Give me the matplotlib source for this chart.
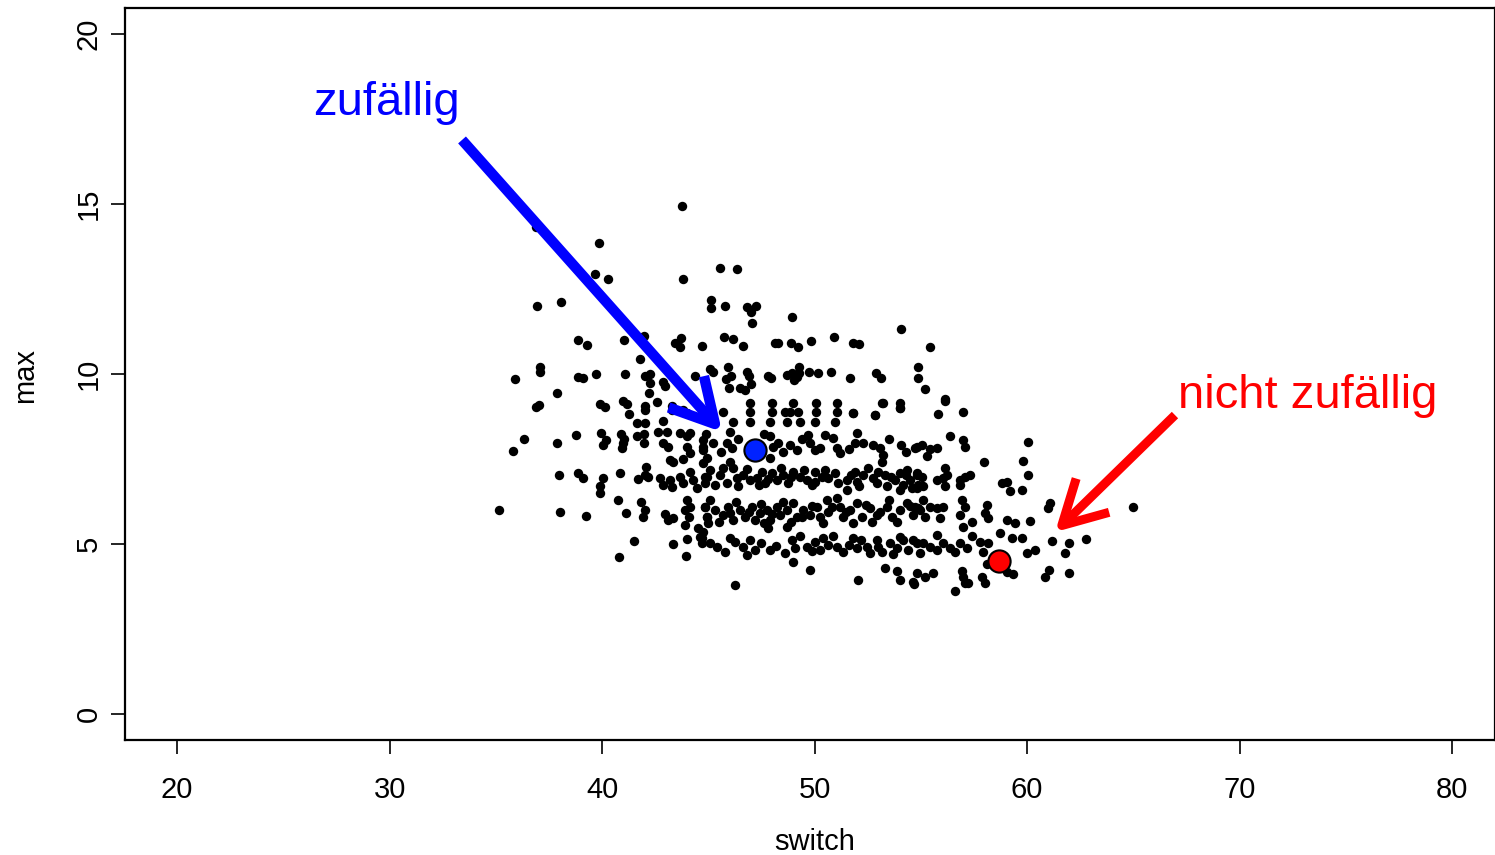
import matplotlib
matplotlib.use("Agg")
import matplotlib.pyplot as plt

plt.rcParams["font.family"] = ["Liberation Sans", "DejaVu Sans"]

# switch / max pairs, grouped by region
upper_sw = [43.75, 36.88, 39.84, 39.69, 40.28, 43.81, 36.94, 38.07, 38.85, 39.31,
            41.02, 41.98, 41.79, 43.42, 43.67, 43.73, 44.71, 37.08, 37.08, 35.92,
            37.87, 38.89, 39.09, 39.70, 41.09, 42.04, 42.26, 42.26, 42.23, 42.89,
            42.94, 44.38,
            45.57, 46.33, 45.13, 45.13, 45.79, 46.81, 47.01, 47.26, 47.04, 48.92,
            54.09, 45.74, 46.15, 46.64, 48.14, 48.26, 48.87, 49.24, 49.81, 50.93,
            51.83, 52.11, 45.08, 45.21, 45.91, 45.84, 46.06, 46.81, 46.93, 47.01,
            45.98, 46.49, 46.73, 47.82, 47.95, 48.71, 48.92, 49.29, 49.29, 49.05,
            49.16, 49.75, 50.14, 50.76, 51.69, 52.89, 53.13, 54.85, 54.88,
            55.44, 55.22, 56.16]
upper_mx = [14.94, 14.31, 13.86, 12.93, 12.79, 12.79, 11.99, 12.11, 11.01, 10.85,
            11.01, 11.11, 10.44, 10.90, 10.79, 11.06, 10.83, 10.21, 10.07, 9.84,
            9.45, 9.92, 9.87, 10.01, 10.01, 9.94, 9.99, 9.72, 9.43, 9.77,
            9.63, 9.95,
            13.11, 13.09, 12.18, 11.93, 12.0, 11.96, 11.81, 12.0, 11.51, 11.67,
            11.33, 11.08, 11.03, 10.82, 10.90, 10.92, 10.90, 10.78, 10.97, 11.10,
            10.90, 10.87, 10.15, 10.05, 10.19, 9.85, 9.94, 10.07, 9.94, 9.71,
            9.58, 9.58, 9.53, 9.94, 9.89, 9.97, 10.04, 10.21, 10.04, 9.82,
            9.92, 10.05, 10.02, 10.06, 9.87, 10.02, 9.87, 10.21, 9.87,
            10.80, 9.55, 9.26]

left_sw = [36.88, 37.04, 39.91, 40.14, 41.0, 41.16, 42.02, 42.02, 42.57, 43.27,
           43.27, 41.25, 41.64, 42.02, 42.89, 43.82, 43.98,
           36.33, 35.80, 37.87, 38.79, 39.95, 40.19, 40.06, 40.89, 41.05, 41.0,
           40.92, 41.64, 41.95, 41.95, 42.65, 43.04, 42.89, 43.12, 43.67, 43.98,
           44.14, 43.98, 44.14, 43.82, 44.77, 44.77, 44.92, 43.2, 43.36,
           37.95, 38.89, 39.12, 40.06, 39.91, 39.88, 40.85, 41.71, 42.02, 42.18,
           42.05, 42.73, 42.89, 43.27, 43.2, 43.67, 43.82, 44.14, 44.29, 44.45,
           44.77, 44.92, 44.85,
           35.13, 38.02, 39.23, 40.77, 41.13, 41.81, 42.02, 41.91, 42.96, 43.12,
           43.36, 43.91, 44.14, 43.91, 44.07, 43.98, 44.85, 44.92, 45.0, 44.53,
           41.51, 43.32, 43.98, 44.61, 44.69, 40.80, 43.95]
left_mx = [9.02, 9.09, 9.12, 9.02, 9.19, 9.12, 9.06, 8.94, 9.16, 9.06,
           8.94, 8.82, 8.57, 8.57, 8.63, 8.94, 8.84,
           8.09, 7.74, 7.98, 8.19, 8.27, 8.06, 7.91, 8.22, 8.08, 7.98,
           7.81, 8.16, 8.24, 7.96, 8.30, 8.28, 7.96, 7.86, 8.25, 8.16,
           8.25, 7.86, 7.67, 7.49, 8.06, 7.76, 7.52, 7.47, 7.42,
           7.03, 7.08, 6.93, 6.93, 6.71, 6.51, 7.08, 6.91, 7.03, 6.96,
           7.27, 6.93, 6.74, 6.67, 6.88, 6.98, 6.78, 7.13, 6.88, 6.64,
           7.37, 6.98, 6.78,
           6.0, 5.95, 5.82, 6.29, 5.90, 6.24, 6.0, 5.80, 5.88, 5.71,
           5.76, 6.0, 6.08, 5.56, 5.80, 6.29, 6.10, 5.80, 5.61, 5.48,
           5.10, 5.0, 5.16, 5.21, 5.04, 4.61, 4.65]

mid_sw = [46.96, 47.98, 49.0, 50.09, 51.04, 53.15, 54.02,
          45.71, 46.96, 47.98, 48.61, 48.85, 49.24, 50.09, 51.04, 51.82, 52.85, 54.02,
          46.18, 46.96, 47.91, 48.69, 49.32, 50.02, 50.96, 51.83, 52.85, 54.02, 53.24,
          44.77, 45.24, 45.87, 46.1, 46.02, 47.91, 48.06, 48.3, 47.91, 48.85,
          49.16, 49.71, 49.79, 50.02, 50.26, 50.88, 51.04, 51.2, 51.91, 52.3,
          52.77, 53.08, 53.24, 53.16, 54.09, 54.73,
          44.9, 45.6, 46.4, 47.6, 48.5, 49.4, 50.5, 51.6, 52.0, 53.5, 54.3]
mid_mx = [9.15, 9.15, 9.15, 9.15, 9.15, 9.15, 9.15,
          8.89, 8.89, 8.89, 8.89, 8.89, 8.89, 8.89, 8.89, 8.84, 8.79, 8.99,
          8.6, 8.6, 8.6, 8.6, 8.6, 8.6, 8.6, 8.84, 8.79, 8.99, 9.14,
          7.86, 7.96, 7.96, 7.81, 8.30, 8.16, 7.86, 7.96, 7.52, 7.91,
          7.76, 8.21, 7.96, 7.76, 7.81, 8.11, 7.81, 7.67, 7.96, 7.96,
          7.91, 7.81, 7.62, 7.42, 7.91, 7.81,
          8.22, 7.70, 8.08, 8.24, 7.70, 8.08, 8.20, 7.80, 8.25, 8.10, 7.70]

band7_sw = [44.85, 45.08, 45.55, 45.86, 46.18, 46.34, 46.65, 46.96, 47.28, 47.51,
            47.67, 47.98, 48.22, 48.53, 48.77, 49.0, 49.32, 49.63, 50.02, 50.02,
            50.34, 50.65, 50.96, 51.51, 51.9, 51.98, 52.3, 52.77, 52.92, 53.32,
            53.39, 53.79, 54.02, 54.18, 54.49, 54.8, 54.88, 46.02, 51.51, 54.02,
            54.34,
            45.3, 45.7, 46.4, 46.8, 47.4, 47.8, 48.4, 48.9, 49.5, 49.9,
            50.5, 51.1, 51.7, 52.1, 52.5, 53.0, 53.6, 54.3, 54.6]
band7_mx = [6.98, 7.18, 7.03, 6.79, 7.23, 6.93, 7.03, 6.88, 6.93, 7.13,
            6.79, 7.08, 6.88, 7.03, 6.79, 7.13, 6.98, 6.88, 7.13, 6.83,
            6.98, 6.93, 7.08, 6.88, 7.13, 6.83, 7.03, 6.93, 6.79, 7.03,
            6.69, 6.88, 7.08, 6.74, 6.88, 7.03, 6.74, 7.42, 6.59, 6.59,
            7.18,
            6.72, 7.22, 6.70, 7.20, 6.72, 6.92, 7.22, 6.96, 7.16, 6.72,
            7.18, 6.78, 7.02, 6.70, 7.22, 7.12, 6.96, 7.02, 6.64]

band6_sw = [44.85, 44.92, 45.32, 45.71, 45.94, 46.18, 46.49, 46.73, 47.04, 47.2,
            47.43, 47.75, 47.9, 48.22, 48.37, 48.69, 49.0, 49.16, 49.47, 49.79,
            50.1, 50.26, 50.57, 50.65, 51.04, 51.2, 51.36, 51.67, 51.98, 52.22,
            52.61, 52.92, 53.39, 53.63, 54.02, 54.34, 54.65, 54.88, 48.69, 47.83,
            44.77,
            45.1, 45.5, 46.0, 46.3, 46.9, 47.5, 47.6, 48.0, 48.5, 48.9,
            49.4, 49.9, 50.4, 50.8, 51.5, 51.8, 52.4, 52.7, 53.1, 53.5,
            53.9, 54.5]
band6_mx = [6.10, 5.80, 6.0, 5.85, 6.10, 5.71, 6.0, 5.80, 6.10, 5.71,
            5.90, 6.0, 5.71, 6.10, 5.85, 6.0, 6.20, 5.80, 6.0, 5.85,
            6.10, 5.80, 6.30, 5.95, 6.34, 6.10, 5.80, 6.0, 6.20, 5.80,
            6.05, 5.85, 6.10, 5.80, 6.0, 6.20, 5.85, 6.05, 5.51, 5.46,
            5.36,
            6.28, 5.64, 5.92, 6.22, 5.95, 6.18, 5.62, 5.88, 6.22, 5.66,
            5.78, 6.12, 5.62, 6.08, 5.94, 5.62, 6.16, 5.66, 5.95, 6.30,
            5.66, 6.12]

band5_sw = [45.79, 46.26, 46.65, 46.96, 47.2, 47.9, 48.92, 49.08, 49.32, 49.63,
            50.02, 50.26, 50.65, 50.88, 51.04, 51.36, 51.83, 51.98, 52.45, 52.61,
            52.92, 53.16, 53.55, 53.86, 54.18, 54.41, 54.8, 46.81, 45.08, 44.69,
            49.79, 52.06, 53.32, 53.86, 54.02, 54.65, 46.26, 49.0,
            45.4, 46.0, 47.5, 48.2, 48.6, 49.9, 50.4, 51.6, 52.2, 53.0, 53.7, 54.0]
band5_mx = [4.77, 5.07, 4.92, 5.12, 4.82, 4.82, 5.12, 4.87, 5.22, 4.92,
            5.07, 4.82, 4.97, 5.22, 4.92, 4.77, 5.17, 4.87, 4.92, 4.73,
            5.12, 4.77, 5.02, 4.87, 5.12, 4.82, 5.02, 4.67, 5.02, 5.17,
            4.24, 3.94, 4.28, 4.19, 3.94, 3.89, 3.79, 4.48,
            4.92, 5.18, 5.02, 4.95, 4.72, 4.78, 5.18, 4.97, 5.12, 4.90, 4.70, 5.20]

right_sw = [56.14, 55.82, 56.97, 56.37, 56.97, 57.08, 60.06, 54.8, 55.04, 55.43,
            55.74, 55.27, 57.97, 59.82, 60.06, 54.8, 55.04, 54.8, 55.12, 55.74,
            56.06, 56.14, 56.22, 56.84, 57.08, 57.31, 56.84, 56.14, 58.8, 59.04,
            59.2, 59.74, 54.73, 54.96, 55.12, 55.2, 55.43, 55.74, 56.06, 55.9,
            56.92, 57.08, 56.84, 58.1, 58.02, 58.18, 57.39, 57.0, 59.04, 59.43,
            60.14, 61.0, 61.08, 65.0, 58.73, 55.74, 57.39, 54.65, 55.12, 55.43,
            55.74, 56.06, 56.37, 56.61, 56.84, 57.16, 54.96, 57.78, 58.18, 57.94,
            59.27, 59.74, 60.37, 59.98, 61.16, 61.99, 62.77, 61.78, 58.1, 59.04,
            59.35, 54.8, 55.2, 55.59, 56.92, 57.0, 57.08, 57.23, 57.86, 58.02,
            56.61, 54.68, 61.05, 60.84, 61.99]
right_mx = [9.19, 8.82, 8.89, 8.18, 8.06, 7.86, 8.01, 7.86, 7.91, 7.78,
            7.81, 7.59, 7.42, 7.44, 7.03, 7.08, 6.98, 6.64, 6.69, 6.88,
            6.93, 7.23, 7.03, 6.88, 6.98, 7.03, 6.74, 6.69, 6.78, 6.83,
            6.56, 6.59, 6.10, 6.0, 6.29, 5.80, 6.10, 6.05, 6.10, 5.75,
            6.29, 6.10, 5.85, 6.15, 5.9, 5.75, 5.66, 5.51, 5.71, 5.63,
            5.68, 6.05, 6.19, 6.10, 5.33, 5.26, 5.22, 5.12, 5.02, 4.92,
            4.82, 5.02, 4.87, 4.77, 5.02, 4.87, 4.72, 5.07, 5.02, 4.77,
            5.18, 5.18, 4.82, 4.74, 5.10, 5.02, 5.14, 4.74, 4.41, 4.17,
            4.12, 4.16, 4.04, 4.16, 4.19, 4.04, 3.84, 3.84, 4.04, 3.86,
            3.63, 3.82, 4.23, 4.04, 4.14]

# highlighted sequences
random_pt = (47.2, 7.76)
nonrandom_pt = (58.69, 4.51)

x_ticks = [20, 30, 40, 50, 60, 70, 80]
y_ticks = [0, 5, 10, 15, 20]

fig = plt.figure(figsize=(14.95, 8.55), dpi=100)
ax = fig.add_axes([125 / 1495, 1 - 740 / 855, 1370 / 1495, 732 / 855])

sw = upper_sw + left_sw + mid_sw + band7_sw + band6_sw + band5_sw + right_sw
mx = upper_mx + left_mx + mid_mx + band7_mx + band6_mx + band5_mx + right_mx
ax.scatter(sw, mx, s=46, c="black", linewidths=0, zorder=2)

ax.plot(*random_pt, "o", ms=16, mfc="#0022ff", mec="black", mew=1.5, zorder=4)
ax.plot(*nonrandom_pt, "o", ms=16, mfc="#ff0000", mec="black", mew=1.5, zorder=4)

# arrows and labels
head = "->,head_length=0.62,head_width=0.34"
ax.annotate("", xy=(45.65, 8.29), xytext=(33.41, 16.88),
            arrowprops=dict(arrowstyle=head, color="#0000ff", lw=7.5,
                            mutation_scale=50, shrinkA=0, shrinkB=0,
                            capstyle="butt"), zorder=3)
ax.annotate("", xy=(61.32, 5.35), xytext=(66.96, 8.79),
            arrowprops=dict(arrowstyle=head, color="#ff0000", lw=6.5,
                            mutation_scale=50, shrinkA=0, shrinkB=0,
                            capstyle="butt"), zorder=3)
ax.text(26.4, 17.97, "zufällig", color="#0000ff", fontsize=34,
        ha="left", va="center")
ax.text(67.1, 9.35, "nicht zufällig", color="#ff0000", fontsize=34,
        ha="left", va="center")

ax.set_xlim(17.55, 82.02)
ax.set_ylim(-0.765, 20.76)
ax.set_xticks(x_ticks)
ax.set_yticks(y_ticks)
ax.tick_params(axis="both", direction="out", length=10, width=1.2,
               labelsize=21, color="black")
ax.tick_params(axis="x", pad=16)
ax.tick_params(axis="y", pad=6)
for lab in ax.get_yticklabels():
    lab.set_rotation(90)
    lab.set_va("center")
for s in ax.spines.values():
    s.set_linewidth(1.6)

fig.text(815 / 1495, 1 - 842 / 855, "switch", fontsize=21,
         ha="center", va="center")
fig.text(25 / 1495, 1 - 375 / 855, "max", fontsize=21, rotation=90,
         ha="center", va="center")

fig.savefig("out.png", dpi=100)
